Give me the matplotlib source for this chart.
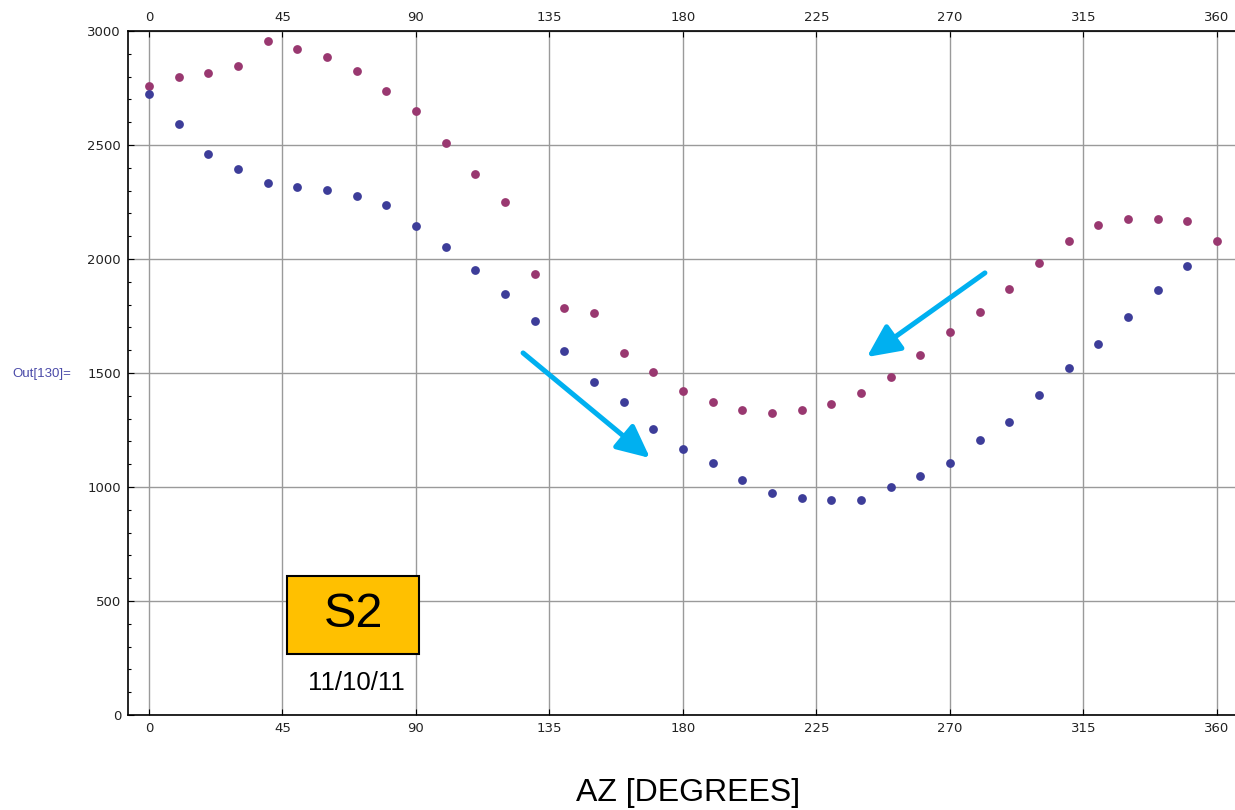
import numpy as np
import matplotlib
matplotlib.use("Agg")
import matplotlib.pyplot as plt
from matplotlib.ticker import MultipleLocator
from matplotlib.patches import Rectangle

# azimuth in degrees
az_red = np.arange(0, 361, 10)
az_blue = np.arange(0, 351, 10)

red = [2759, 2798, 2816, 2846, 2956, 2921, 2886, 2825, 2737, 2649,
       2509, 2373, 2250, 1934, 1785, 1763, 1588, 1504, 1421, 1373,
       1338, 1325, 1338, 1364, 1412, 1482, 1579, 1680, 1768, 1868,
       1982, 2079, 2149, 2175, 2175, 2167, 2079]
blue = [2724, 2592, 2461, 2395, 2333, 2316, 2303, 2276, 2237, 2145,
        2053, 1952, 1846, 1728, 1596, 1461, 1373, 1254, 1167, 1105,
        1031, 974, 952, 943, 943, 1000, 1048, 1105, 1206, 1285,
        1404, 1522, 1627, 1746, 1864, 1969]

xticks = [0, 45, 90, 135, 180, 225, 270, 315, 360]
yticks = [0, 500, 1000, 1500, 2000, 2500, 3000]

tickfont = ['Liberation Sans Narrow', 'DejaVu Sans']
sans = ['Liberation Sans', 'DejaVu Sans']

fig = plt.figure(figsize=(12.35, 8.1), dpi=100)
ax = fig.add_axes([128/1235, 1 - 715/810, 1 - 128/1235, (715 - 31)/810])

ax.scatter(az_red, red, s=40, color='#993870', zorder=3, linewidths=0)
ax.scatter(az_blue, blue, s=40, color='#3d3d99', zorder=3, linewidths=0)

ax.set_xlim(-7.08, 366.1)
ax.set_ylim(0, 3000)
ax.set_xticks(xticks)
ax.set_yticks(yticks)
ax.yaxis.set_minor_locator(MultipleLocator(100))
ax.grid(True, color='#9a9a9a', linewidth=1.0, zorder=0)
ax.set_axisbelow(True)

ax.spines['right'].set_visible(False)
for s in ['left', 'top', 'bottom']:
    ax.spines[s].set_linewidth(1.2)

ax.tick_params(axis='both', which='major', direction='in', length=4, width=0.8,
               top=True, labeltop=True, pad=5, labelsize=9.5,
               labelcolor='#222222')
ax.tick_params(axis='y', which='minor', direction='in', length=2.5, width=0.8)
for t in ax.xaxis.get_major_ticks() + ax.yaxis.get_major_ticks():
    t.label1.set_family(tickfont)
    t.label2.set_family(tickfont)

# arrows
arrow_kw = dict(arrowstyle='-|>,head_length=2.0,head_width=0.95',
                color='#00b0f0', lw=3.6, shrinkA=0, shrinkB=0)
ax.annotate('', xy=(168.9, 1127), xytext=(126.1, 1588),
            arrowprops=arrow_kw, zorder=4)
ax.annotate('', xy=(242.0, 1570), xytext=(281.8, 1939),
            arrowprops=arrow_kw, zorder=4)

# label box
ax.add_patch(Rectangle((46.5, 268), 44.5, 342, fc='#ffc000', ec='black',
                       lw=1.5, zorder=5))
ax.text(68.8, 439, 'S2', fontsize=35, ha='center', va='center',
        family=sans, zorder=6)
ax.text(69.8, 140, '11/10/11', fontsize=18.5, ha='center', va='center',
        family=sans, zorder=5)

fig.text(688/1235, 1 - 793/810, 'AZ [DEGREES]', fontsize=23, ha='center',
         va='center', family=sans)
fig.text(12/1235, 1 - 374/810, 'Out[130]=', fontsize=9.5, ha='left',
         va='center', color='#4a4aa8', family=sans)

fig.savefig('out.png', dpi=100)
